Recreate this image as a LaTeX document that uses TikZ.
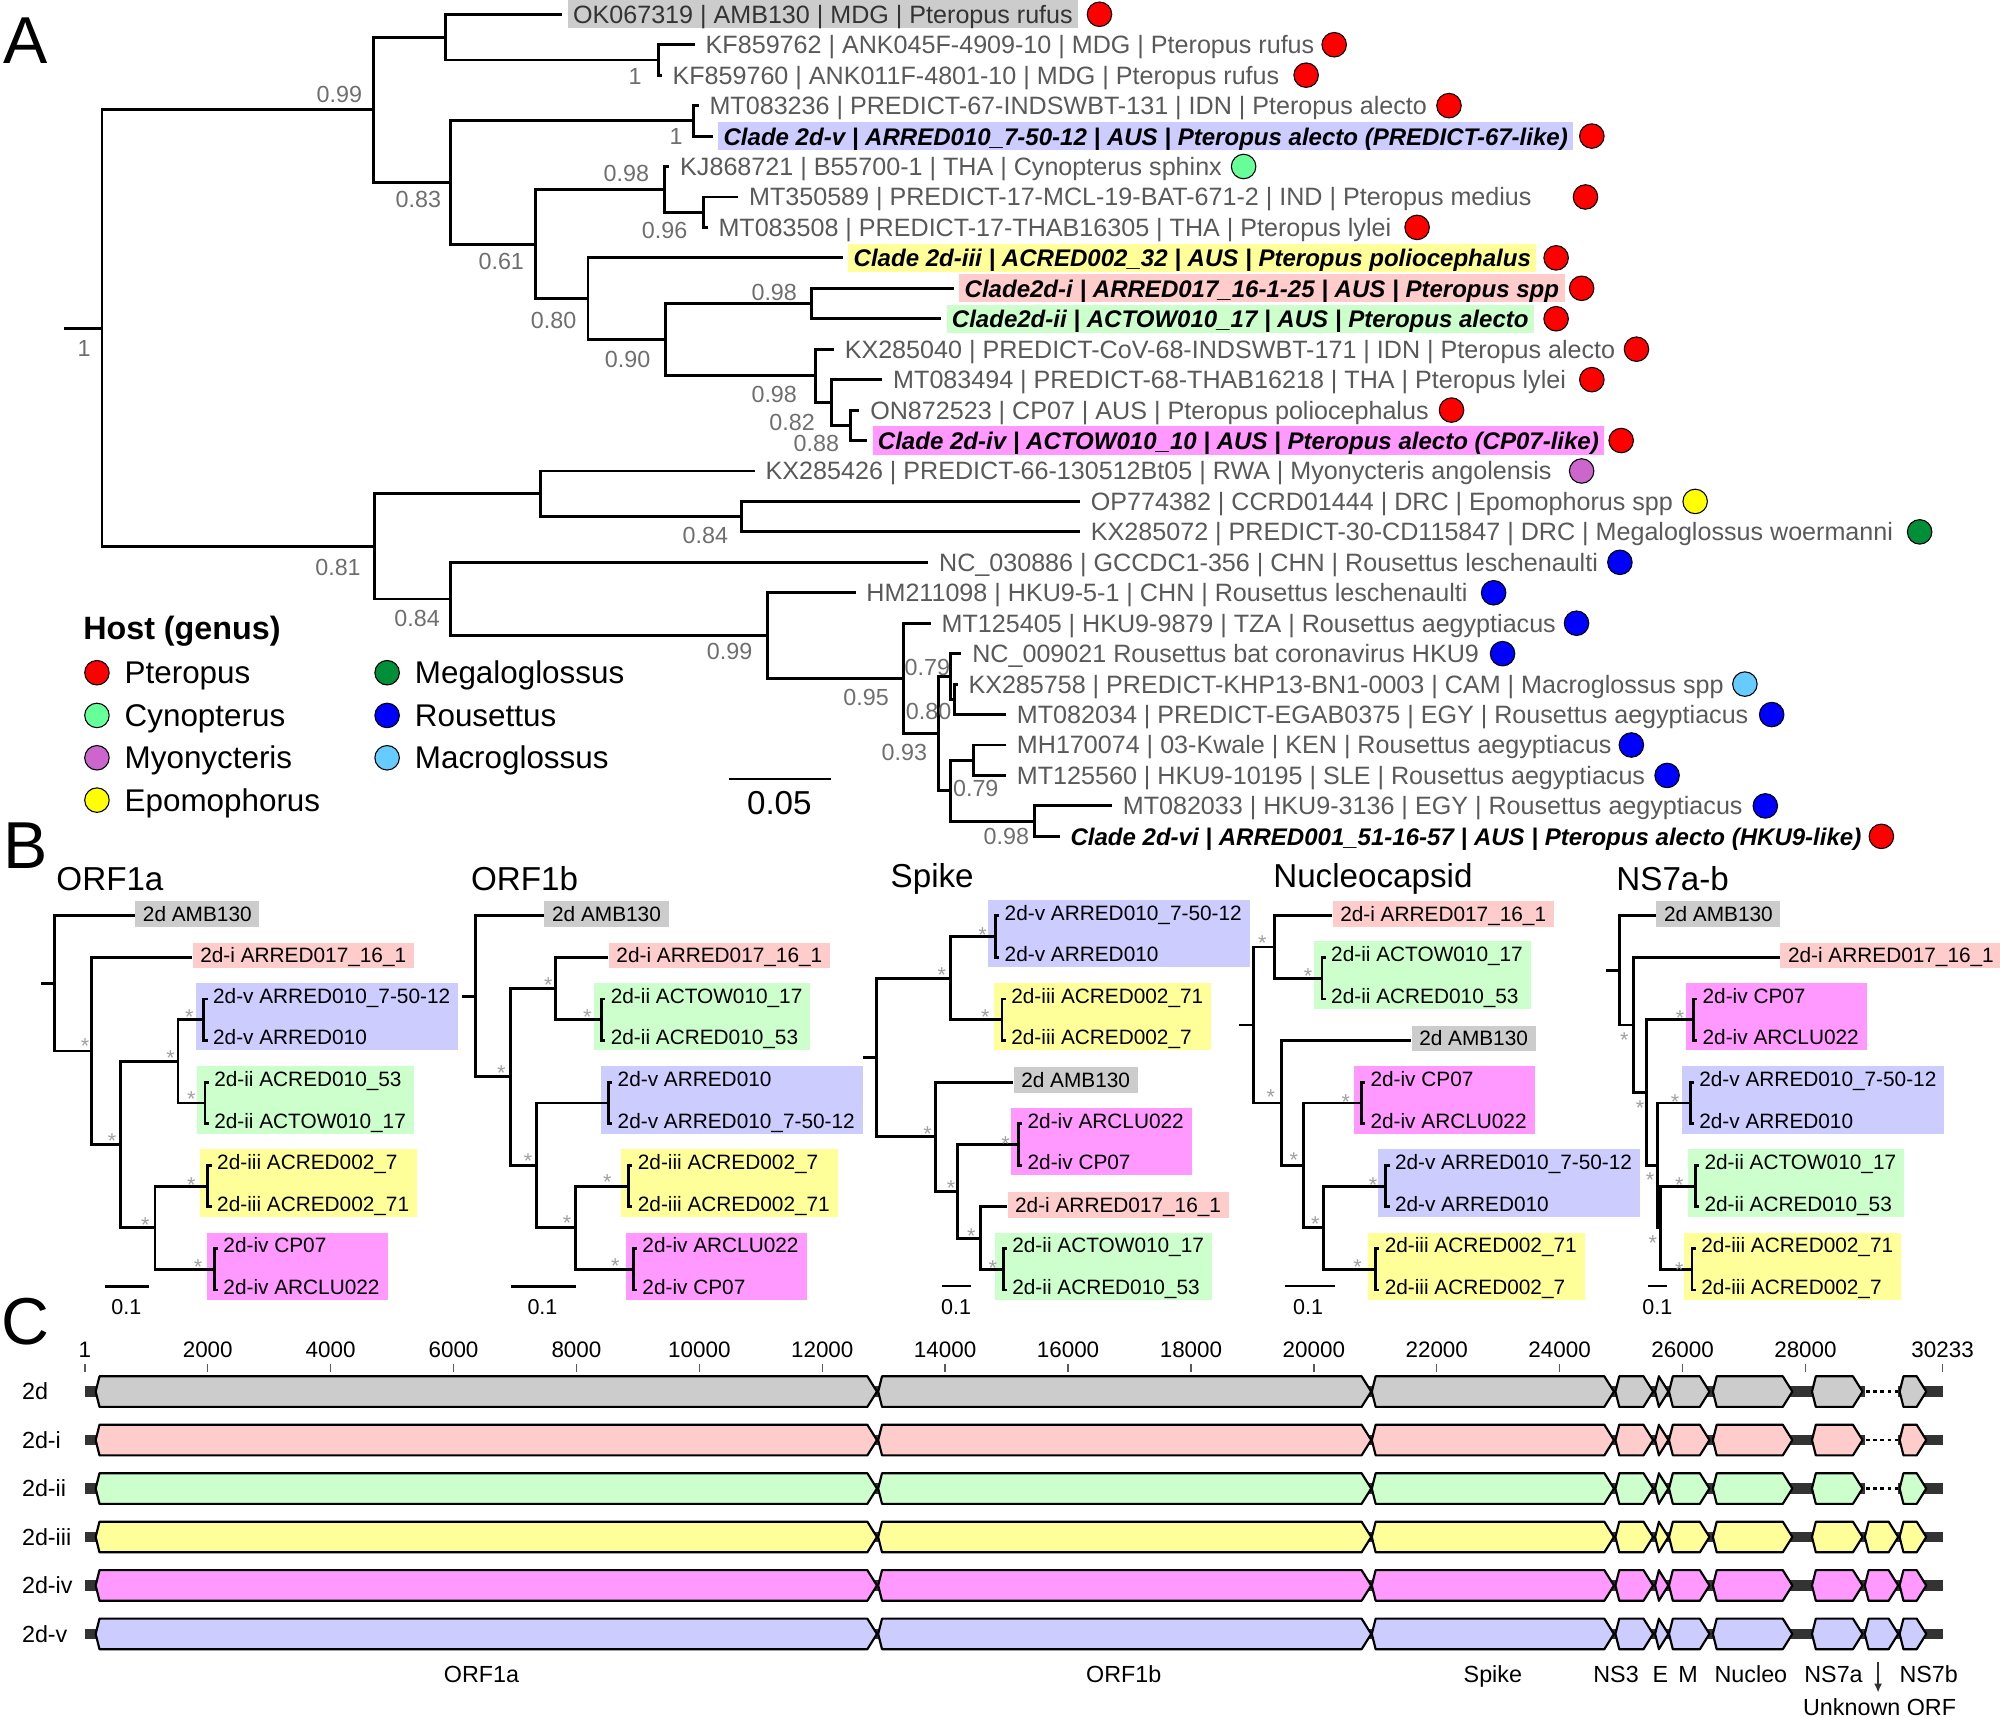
\documentclass[tikz,border=0pt]{standalone}
\usepackage{fontspec}
\setmainfont{Liberation Sans}
\usetikzlibrary{positioning,fit,backgrounds,calc,arrows.meta}

\definecolor{cgray}{HTML}{CCCCCC}
\definecolor{cpink}{HTML}{FFCCCC}
\definecolor{cgreen}{HTML}{CCFFCC}
\definecolor{cyellow}{HTML}{FFFF99}
\definecolor{cmag}{HTML}{FF99FF}
\definecolor{cblue}{HTML}{CCCCFF}
\definecolor{hptero}{HTML}{FF0000}
\definecolor{hcyno}{HTML}{66FF99}
\definecolor{hmyo}{HTML}{CC66CC}
\definecolor{hepo}{HTML}{FFFF00}
\definecolor{hmega}{HTML}{008F39}
\definecolor{hrous}{HTML}{0000FF}
\definecolor{hmacro}{HTML}{66CCFF}
\definecolor{labgray}{HTML}{595959}
\definecolor{bootgray}{HTML}{6E6E6E}
\definecolor{stargray}{HTML}{A0A0A0}
\definecolor{bbone}{HTML}{333333}

\newcommand\fs[1]{\fontsize{#1}{#1}\selectfont}

\tikzset{
  branch/.style={line width=1.6pt},
  tiplab/.style={anchor=west, xshift=1mm, inner xsep=3pt, inner ysep=0pt, text height=10pt, text depth=0pt, minimum height=5.5mm, font=\fs{14}, text=labgray},
  cladelab/.style={tiplab, font=\fs{13.4}\bfseries\itshape, text=black},
  bootlab/.style={font=\fs{13}, text=bootgray, inner sep=0pt},
  hostdot/.style={circle, draw=black, line width=0.6pt, minimum size=4.8mm, inner sep=0pt},
  keylab/.style={anchor=west, font=\fs{17.5}, inner sep=0pt, text height=12.5pt, text depth=0pt},
  blab/.style={anchor=west, inner sep=0pt, text height=8.3pt, text depth=0pt, font=\fs{11.6}},
  solo/.style={blab, inner xsep=1.5mm, inner ysep=3pt, yshift=0.4mm},
  bstar/.style={font=\fs{12}, text=stargray, inner sep=0pt, yshift=-2.6pt},
  sbar/.style={line width=1.5pt},
  slab/.style={font=\fs{12}, inner sep=0pt},
  ptitle/.style={anchor=west, font=\fs{18.5}, inner sep=0pt},
  plet/.style={font=\fs{37}, inner sep=0pt},
  gene/.style={draw=black, line width=1.2pt, line join=round},
  plain/.style={inner sep=0pt, text height=9pt, text depth=0pt},
}

% pair of tips in a small tree, boxed together
\newcommand\twin[4]{%
  \coordinate (#1u) at ($(#1)+(3,-16.3)$);
  \coordinate (#1d) at ($(#1)+(3,16.3)$);
  \draw[branch] (#1) |- (#1u) (#1) |- (#1d);
  \node[blab, right=1mm of #1u, yshift=0.6mm] (#1a) {#3};
  \node[blab, right=1mm of #1d, yshift=0.6mm] (#1b) {#4};
  \begin{scope}[on background layer]
    \node[fit=(#1)(#1a)(#1b), fill=#2, inner xsep=1.5mm, inner ysep=1mm] (#1box) {};
  \end{scope}}

% one gene arrow
\newcommand\gene[4]{\draw[gene, fill=#4] ({#1+3},{#3-12}) -- ({#2-7.5},{#3-12}) -- (#2,#3) -- ({#2-7.5},{#3+12}) -- ({#1+3},{#3+12}) -- (#1,#3) -- cycle;}

\begin{document}
\begin{tikzpicture}[x=0.025cm, y=-0.025cm]
\useasboundingbox (0,0) rectangle (1568,1346);

% ---------------- A: whole genome tree
\node[plet] (pA) at (20,32) {A};
\foreach \i/\x in {0/440.8, 1/544.8, 2/518.8, 3/547.8, 4/558.8, 5/524.8, 6/578.8, 7/554.8, 8/660.8, 9/747.8, 10/737.8, 11/653.8, 12/691.8, 13/673.8, 14/679.8, 15/591.8, 16/846.8, 17/846.8, 18/727.8, 19/670.8, 20/729.8, 21/753.8, 22/750.8, 23/788.8, 24/788.8, 25/788.8, 26/871.8, 27/830.8}
  \coordinate (t\i) at (\x,{11.2+23.87*\i});
\foreach \n/\x/\y in {R0/50/257.3, R/80/257.3, A1/293/86.1, A2/349.5/29.1, A3/516.5/47, A4/353.5/143.1, A5/544/94.75, A6/420/191.4, A7/521/148.5, A8/551.6/166.35, A9/461/234.25, A10/521.6/266.3, A11/636/237.95, A12/639.4/294.65, A13/652/315.5, A14/667/333.45, A15/293.5/428.5, A16/424/387.2, A17/581.5/405.05, A18/353.5/469.6, A19/601.5/498.3, A20/708/531.9, A21/736/575.2, A22/745/530.4, A23/748/548.25, A24/745/619.9, A25/763.4/596, A26/811/643.75}
  \coordinate (\n) at (\x,\y);
\draw[branch] (R0) -- (R);
\foreach \p/\c in {R/A1, R/A15, A1/A2, A1/A4, A2/t0, A2/A3, A3/t1, A3/t2, A4/A5, A4/A6, A5/t3, A5/t4, A6/A7, A6/A9, A7/t5, A7/A8, A8/t6, A8/t7, A9/t8, A9/A10, A10/A11, A10/A12, A11/t9, A11/t10, A12/t11, A12/A13, A13/t12, A13/A14, A14/t13, A14/t14, A15/A16, A15/A18, A16/t15, A16/A17, A17/t16, A17/t17, A18/t18, A18/A19, A19/t19, A19/A20, A20/t20, A20/A21, A21/A22, A21/A24, A22/t21, A22/A23, A23/t22, A23/t23, A24/A25, A24/A26, A25/t24, A25/t25, A26/t26, A26/t27}
  \draw[branch] (\p) |- (\c);

\node[tiplab, fill=cgray, text=black!80] (l0) at (t0) {OK067319 | AMB130 | MDG | Pteropus rufus};
\node[tiplab] (l1) at (t1) {KF859762 | ANK045F-4909-10 | MDG | Pteropus rufus};
\node[tiplab] (l2) at (t2) {KF859760 | ANK011F-4801-10 | MDG | Pteropus rufus};
\node[tiplab] (l3) at (t3) {MT083236 | PREDICT-67-INDSWBT-131 | IDN | Pteropus alecto};
\node[cladelab, fill=cblue] (l4) at (t4) {Clade 2d-v | ARRED010\_7-50-12 | AUS | Pteropus alecto (PREDICT-67-like)};
\node[tiplab] (l5) at (t5) {KJ868721 | B55700-1 | THA | Cynopterus sphinx};
\node[tiplab] (l6) at (t6) {MT350589 | PREDICT-17-MCL-19-BAT-671-2 | IND | Pteropus medius};
\node[tiplab] (l7) at (t7) {MT083508 | PREDICT-17-THAB16305 | THA | Pteropus lylei};
\node[cladelab, fill=cyellow] (l8) at (t8) {Clade 2d-iii | ACRED002\_32 | AUS | Pteropus poliocephalus};
\node[cladelab, fill=cpink] (l9) at (t9) {Clade2d-i | ARRED017\_16-1-25 | AUS | Pteropus spp};
\node[cladelab, fill=cgreen] (l10) at (t10) {Clade2d-ii | ACTOW010\_17 | AUS | Pteropus alecto};
\node[tiplab] (l11) at (t11) {KX285040 | PREDICT-CoV-68-INDSWBT-171 | IDN | Pteropus alecto};
\node[tiplab] (l12) at (t12) {MT083494 | PREDICT-68-THAB16218 | THA | Pteropus lylei};
\node[tiplab] (l13) at (t13) {ON872523 | CP07 | AUS | Pteropus poliocephalus};
\node[cladelab, fill=cmag] (l14) at (t14) {Clade 2d-iv | ACTOW010\_10 | AUS | Pteropus alecto (CP07-like)};
\node[tiplab] (l15) at (t15) {KX285426 | PREDICT-66-130512Bt05 | RWA | Myonycteris angolensis};
\node[tiplab] (l16) at (t16) {OP774382 | CCRD01444 | DRC | Epomophorus spp};
\node[tiplab] (l17) at (t17) {KX285072 | PREDICT-30-CD115847 | DRC | Megaloglossus woermanni};
\node[tiplab] (l18) at (t18) {NC\_030886 | GCCDC1-356 | CHN | Rousettus leschenaulti};
\node[tiplab] (l19) at (t19) {HM211098 | HKU9-5-1 | CHN | Rousettus leschenaulti};
\node[tiplab] (l20) at (t20) {MT125405 | HKU9-9879 | TZA | Rousettus aegyptiacus};
\node[tiplab] (l21) at (t21) {NC\_009021 Rousettus bat coronavirus HKU9};
\node[tiplab] (l22) at (t22) {KX285758 | PREDICT-KHP13-BN1-0003 | CAM | Macroglossus spp};
\node[tiplab] (l23) at (t23) {MT082034 | PREDICT-EGAB0375 | EGY | Rousettus aegyptiacus};
\node[tiplab] (l24) at (t24) {MH170074 | 03-Kwale | KEN | Rousettus aegyptiacus};
\node[tiplab] (l25) at (t25) {MT125560 | HKU9-10195 | SLE | Rousettus aegyptiacus};
\node[tiplab] (l26) at (t26) {MT082033 | HKU9-3136 | EGY | Rousettus aegyptiacus};
\node[cladelab] (l27) at (t27) {Clade 2d-vi | ARRED001\_51-16-57 | AUS | Pteropus alecto (HKU9-like)};

% host dots
\foreach \i/\x/\c in {0/862/hptero, 1/1046/hptero, 2/1024/hptero, 3/1136/hptero, 4/1248/hptero, 5/975/hcyno, 6/1243/hptero, 7/1111/hptero, 8/1220/hptero, 9/1240/hptero, 10/1220/hptero, 11/1283/hptero, 12/1248/hptero, 13/1138/hptero, 14/1271/hptero, 15/1240/hmyo, 16/1329/hepo, 17/1505/hmega, 18/1270/hrous, 19/1171/hrous, 20/1236/hrous, 21/1178/hrous, 22/1368/hmacro, 23/1389/hrous, 24/1279/hrous, 25/1307/hrous, 26/1384/hrous, 27/1475/hptero}
  \node[hostdot, fill=\c] (d\i) at (\x,{11.2+23.87*\i}) {};

% support values
\foreach \x/\y/\v [count=\k] in {66/273/1, 266/74/0.99, 498/60/1, 328/156/0.83, 530/107/1, 491/136/0.98, 521/181/0.96, 393/205/0.61, 434/251/0.80, 492/282/0.90, 607/229/0.98, 607/309/0.98, 621/331/0.82, 640/348/0.88, 553/420/0.84, 265/445/0.81, 327/485/0.84, 572/511/0.99, 679/547/0.95, 727/523/0.79, 728/558/0.80, 709/590/0.93, 765/618/0.79, 789/656/0.98}
  \node[bootlab] (bv\k) at (\x,\y) {\v};

% legend
\node[anchor=west, font=\fs{18}\bfseries, inner sep=0pt, text height=13pt, text depth=0pt] (keyhead) at (65,492.6) {Host (genus)};
\foreach \x/\y/\c/\g [count=\k] in {76/527.4/hptero/Pteropus, 76/560.9/hcyno/Cynopterus, 76/594.1/hmyo/Myonycteris, 76/627.3/hepo/Epomophorus, 303.5/527.4/hmega/Megaloglossus, 303.5/560.9/hrous/Rousettus, 303.5/594.1/hmacro/Macroglossus}{
  \node[hostdot, fill=\c] (k\k) at (\x,\y) {};
  \node[keylab] (k\k t) at ({\x+21.5},\y) {\g};
}

% scale bar
\draw[sbar] (571.5,610.7) -- (651.5,610.7);
\node[font=\fs{18.5}, inner sep=0pt] (scA) at (611,629.3) {0.05};

% ---------------- B: gene trees
\node[plet] (pB) at (20,663) {B};

% ORF1a
\node[ptitle] (tOa) at (44,689) {ORF1a};
\foreach \n/\x/\y in {OaS/32.4/771, OaR/42.8/771, Oa0/105.8/718, Oa1/72/824, Oa2/150.8/750.6, Oa3/94.5/897.3, Oa4/139.5/832.1, Oa5/121.5/962.5, Oa6/159.8/799.5, Oa7/160.7/864.7, Oa8/163/929.9, Oa9/167.9/995.1}
  \coordinate (\n) at (\x,\y);
\draw[branch] (OaS) -- (OaR);
\foreach \p/\c in {OaR/Oa0, OaR/Oa1, Oa1/Oa2, Oa1/Oa3, Oa3/Oa4, Oa3/Oa5, Oa4/Oa6, Oa4/Oa7, Oa5/Oa8, Oa5/Oa9}
  \draw[branch] (\p) |- (\c);
\node[solo, fill=cgray] (Oa0l) at (Oa0) {2d AMB130};
\node[solo, fill=cpink] (Oa2l) at (Oa2) {2d-i ARRED017\_16\_1};
\twin{Oa6}{cblue}{2d-v ARRED010\_7-50-12}{2d-v ARRED010}
\twin{Oa7}{cgreen}{2d-ii ACRED010\_53}{2d-ii ACTOW010\_17}
\twin{Oa8}{cyellow}{2d-iii ACRED002\_7}{2d-iii ACRED002\_71}
\twin{Oa9}{cmag}{2d-iv CP07}{2d-iv ARCLU022}
\foreach \x/\y in {66.6/816.8, 87.8/891.3, 133.7/825.8, 113.9/956.5, 148.5/793.7, 150/858, 150/925.5, 155.3/989.9}
  \node[bstar] at (\x,\y) {*};
\draw[sbar] (82.4,1008.8) -- (117,1008.8);
\node[slab] (sOa) at (99,1024.4) {0.1};

% ORF1b
\node[ptitle] (tOb) at (369,689) {ORF1b};
\foreach \n/\x/\y in {ObS/362.3/781.15, ObR/372.6/781.15, Ob0/426.6/718, Ob1/400.5/844.3, Ob2/435.6/775.05, Ob3/420.8/913.6, Ob4/477/750.6, Ob5/471.6/799.5, Ob6/477/864.7, Ob7/451.4/962.5, Ob8/492.8/929.9, Ob9/496.4/995.1}
  \coordinate (\n) at (\x,\y);
\draw[branch] (ObS) -- (ObR);
\foreach \p/\c in {ObR/Ob0, ObR/Ob1, Ob1/Ob2, Ob1/Ob3, Ob2/Ob4, Ob2/Ob5, Ob3/Ob6, Ob3/Ob7, Ob7/Ob8, Ob7/Ob9}
  \draw[branch] (\p) |- (\c);
\node[solo, fill=cgray] (Ob0l) at (Ob0) {2d AMB130};
\node[solo, fill=cpink] (Ob4l) at (Ob4) {2d-i ARRED017\_16\_1};
\twin{Ob5}{cgreen}{2d-ii ACTOW010\_17}{2d-ii ACRED010\_53}
\twin{Ob6}{cblue}{2d-v ARRED010}{2d-v ARRED010\_7-50-12}
\twin{Ob8}{cyellow}{2d-iii ACRED002\_7}{2d-iii ACRED002\_71}
\twin{Ob9}{cmag}{2d-iv ARCLU022}{2d-iv CP07}
\foreach \x/\y in {393/837.6, 429.8/768.3, 460.4/793.7, 414/907, 444.6/955.3, 476.2/923.2, 482.4/988.6}
  \node[bstar] at (\x,\y) {*};
\draw[sbar] (400.5,1008.8) -- (451.4,1008.8);
\node[slab] (sOb) at (425.3,1024.4) {0.1};

% Spike
\node[ptitle] (tS) at (698,689) {Spike};
\foreach \n/\x/\y in {SS/676.4/829.05, SR/687.2/829.05, S1/745.2/766.9, S2/733.2/891.2, S3/780.4/734.3, S4/785.6/799.5, S5/794.4/848.4, S6/750.4/934, S7/798.4/897.3, S8/768.4/970.65, S9/789.6/946.2, S10/786.4/995.1}
  \coordinate (\n) at (\x,\y);
\draw[branch] (SS) -- (SR);
\foreach \p/\c in {SR/S1, SR/S2, S1/S3, S1/S4, S2/S5, S2/S6, S6/S7, S6/S8, S8/S9, S8/S10}
  \draw[branch] (\p) |- (\c);
\node[solo, fill=cgray] (S5l) at (S5) {2d AMB130};
\node[solo, fill=cpink] (S9l) at (S9) {2d-i ARRED017\_16\_1};
\twin{S3}{cblue}{2d-v ARRED010\_7-50-12}{2d-v ARRED010}
\twin{S4}{cyellow}{2d-iii ACRED002\_71}{2d-iii ACRED002\_7}
\twin{S7}{cmag}{2d-iv ARCLU022}{2d-iv CP07}
\twin{S10}{cgreen}{2d-ii ACTOW010\_17}{2d-ii ACRED010\_53}
\foreach \x/\y in {738.4/760.9, 770.4/729.1, 772.4/794, 727.2/885.4, 745.6/927.8, 788.4/893.2, 761.6/965.6, 778.4/990.5}
  \node[bstar] at (\x,\y) {*};
\draw[sbar] (738.4,1008.3) -- (761.6,1008.3);
\node[slab] (sS) at (749.6,1024.4) {0.1};

% Nucleocapsid
\node[ptitle] (tNc) at (998,689) {Nucleocapsid};
\foreach \n/\x/\y in {NcS/971.2/803.6, NcR/982.4/803.6, Nc1/999.2/742.45, Nc2/1004.4/864.7, Nc3/1044.5/718, Nc4/1036.4/766.9, Nc5/1106.4/815.8, Nc6/1021.6/913.6, Nc7/1067.2/864.7, Nc8/1037.6/962.5, Nc9/1086.4/929.9, Nc10/1078.4/995.1}
  \coordinate (\n) at (\x,\y);
\draw[branch] (NcS) -- (NcR);
\foreach \p/\c in {NcR/Nc1, NcR/Nc2, Nc1/Nc3, Nc1/Nc4, Nc2/Nc5, Nc2/Nc6, Nc6/Nc7, Nc6/Nc8, Nc8/Nc9, Nc8/Nc10}
  \draw[branch] (\p) |- (\c);
\node[solo, fill=cpink] (Nc3l) at (Nc3) {2d-i ARRED017\_16\_1};
\node[solo, fill=cgray] (Nc5l) at (Nc5) {2d AMB130};
\twin{Nc4}{cgreen}{2d-ii ACTOW010\_17}{2d-ii ACRED010\_53}
\twin{Nc7}{cmag}{2d-iv CP07}{2d-iv ARCLU022}
\twin{Nc9}{cblue}{2d-v ARRED010\_7-50-12}{2d-v ARRED010}
\twin{Nc10}{cyellow}{2d-iii ACRED002\_71}{2d-iii ACRED002\_7}
\foreach \x/\y in {989.6/735.7, 1025.6/761.8, 996.4/856.4, 1014.4/905.5, 1055.2/860.3, 1031.2/956, 1076.4/925.2, 1064.4/989.8}
  \node[bstar] at (\x,\y) {*};
\draw[sbar] (1007.2,1008.3) -- (1046.4,1008.3);
\node[slab] (sNc) at (1025.6,1024.4) {0.1};

% NS7a-b
\node[ptitle] (tQ) at (1267,689) {NS7a-b};
\foreach \n/\x/\y in {QS/1259.1/760.8, QR/1269.6/760.8, Q0/1298.3/718, Q1/1280.6/803.6, Q2/1395.5/750.6, Q3/1291/856.55, Q4/1327.6/799.5, Q5/1299.4/913.6, Q6/1325/864.7, Q7/1301.5/962.5, Q8/1329.1/929.9, Q9/1326.5/995.1}
  \coordinate (\n) at (\x,\y);
\draw[branch] (QS) -- (QR);
\foreach \p/\c in {QR/Q0, QR/Q1, Q1/Q2, Q1/Q3, Q3/Q4, Q3/Q5, Q5/Q6, Q5/Q7, Q7/Q8, Q7/Q9}
  \draw[branch] (\p) |- (\c);
\node[solo, fill=cgray] (Q0l) at (Q0) {2d AMB130};
\node[solo, fill=cpink] (Q2l) at (Q2) {2d-i ARRED017\_16\_1};
\twin{Q4}{cmag}{2d-iv CP07}{2d-iv ARCLU022}
\twin{Q6}{cblue}{2d-v ARRED010\_7-50-12}{2d-v ARRED010}
\twin{Q8}{cgreen}{2d-ii ACTOW010\_17}{2d-ii ACRED010\_53}
\twin{Q9}{cyellow}{2d-iii ACRED002\_71}{2d-iii ACRED002\_7}
\foreach \x/\y in {1273.5/811.5, 1285.8/865, 1293.6/921.2, 1295.7/970.9, 1317.2/794.4, 1313.2/860.3, 1316.5/925.7, 1316.5/991.8}
  \node[bstar] at (\x,\y) {*};
\draw[sbar] (1292.3,1008.3) -- (1306.7,1008.3);
\node[slab] (sQ) at (1299.4,1024.4) {0.1};

% ---------------- C: genome maps
\node[plet] (pC) at (20,1036) {C};
\foreach \k/\lab in {0/1, 1/2000, 2/4000, 3/6000, 4/8000, 5/10000, 6/12000, 7/14000, 8/16000, 9/18000, 10/20000, 11/22000, 12/24000, 13/26000, 14/28000}{
  \draw[labgray, line width=0.8pt] ({66.5+96.356*\k},1069.5) -- ({66.5+96.356*\k},1075.5);
  \node[plain, font=\fs{12.5}] (tick\k) at ({66.5+96.356*\k},1058) {\lab};
}
\draw[labgray, line width=0.8pt] (1523,1069.5) -- (1523,1075.5);
\node[plain, font=\fs{12.5}] (tickend) at (1523,1058) {30233};

\foreach \y/\c/\nm [count=\r] in {1091/cgray/2d, 1129/cpink/2d-i, 1167/cgreen/2d-ii, 1205/cyellow/2d-iii, 1243/cmag/2d-iv, 1281/cblue/2d-v}{
  \node[plain, anchor=west, font=\fs{13}] (row\r) at (17,\y) {\nm};
  \ifnum\r<4
    \fill[bbone] (66.5,{\y-4.2}) rectangle (1462,{\y+4.2});
    \fill[bbone] (1488,{\y-4.2}) rectangle (1523,{\y+4.2});
    \draw[line width=1.5pt, dash pattern=on 2pt off 2pt] (1463,\y) -- (1488,\y);
  \else
    \fill[bbone] (66.5,{\y-4.2}) rectangle (1523,{\y+4.2});
    \gene{1462}{1488.2}{\y}{\c}
  \fi
  \foreach \a/\b in {75/687.5, 688.5/1075, 1075.5/1265.3, 1266.5/1296, 1297.6/1308, 1308.5/1340.2, 1342.9/1405.2, 1420.6/1460.2, 1489.3/1510.2}{
    \gene{\a}{\b}{\y}{\c}
  }
}

\foreach \x/\g [count=\k] in {377.5/ORF1a, 881/ORF1b, 1170.4/Spike, 1267/NS3, 1301.7/E, 1323.4/M, 1372.7/Nucleo, 1437.5/NS7a, 1512.1/NS7b}
  \node[plain, font=\fs{13}] (g\k) at (\x,1313) {\g};
\draw[bbone, line width=1pt, -{Latex[length=5pt,width=4.5pt]}] (1472.4,1303) -- (1472.4,1327);
\node[plain, font=\fs{13}] (gunk) at (1473.6,1338.6) {Unknown ORF};
\end{tikzpicture}
\end{document}
